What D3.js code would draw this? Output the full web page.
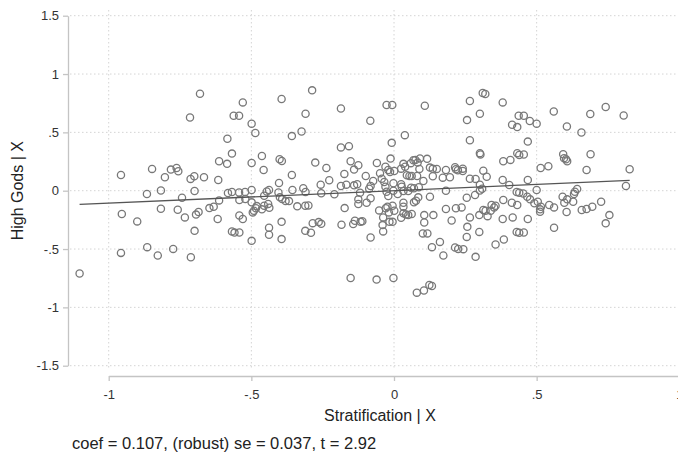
<!DOCTYPE html>
<html>
<head>
<meta charset="utf-8">
<script src="https://cdn.jsdelivr.net/npm/d3@7"></script>
<style>
  body { margin: 0; background: #fff; }
  text { font-family: "Liberation Sans", Arial, sans-serif; }
</style>
</head>
<body>
<script>
// Constantes del gráfico
const WIDTH = 678;
const HEIGHT = 455;

// Datos: residuos de Stratification | X (x) y High Gods | X (y)
const estratificacion = [
  -0.680, -0.715, -0.957, -0.848, -0.803, -0.782, -0.762, -0.756, -0.713, -0.700,
  -0.817, -0.699, -0.866, -0.743, -0.954, -0.817, -0.758, -0.733, -0.900, -0.685,
  -0.694, -0.699, -0.957, -0.865, -0.828, -0.774, -0.712, -1.102, -0.530, -0.562,
  -0.543, -0.499, -0.486, -0.394, -0.287, -0.310, -0.324, -0.358, -0.186, -0.186,
  -0.158, -0.584, -0.568, -0.613, -0.585, -0.666, -0.616, -0.499, -0.463, -0.457,
  -0.401, -0.393, -0.358, -0.403, -0.276, -0.237, -0.227, -0.257, -0.186, -0.568,
  -0.582, -0.543, -0.522, -0.499, -0.455, -0.446, -0.438, -0.405, -0.356, -0.318,
  -0.310, -0.255, -0.209, -0.647, -0.632, -0.613, -0.618, -0.542, -0.521, -0.499,
  -0.542, -0.530, -0.568, -0.559, -0.542, -0.499, -0.491, -0.484, -0.495, -0.481,
  -0.463, -0.455, -0.441, -0.437, -0.438, -0.438, -0.394, -0.394, -0.400, -0.392,
  -0.380, -0.368, -0.339, -0.311, -0.300, -0.285, -0.264, -0.255, -0.311, -0.291,
  -0.184, -0.083, -0.026, -0.006, 0.108, -0.008, 0.038, 0.266, 0.311, 0.320,
  0.301, 0.256, 0.266, 0.301, 0.303, -0.152, -0.140, -0.125, -0.174, -0.167,
  -0.140, -0.129, -0.099, -0.073, -0.082, -0.087, -0.060, -0.012, -0.030, -0.020,
  -0.014, 0.001, -0.049, -0.043, -0.034, -0.030, -0.002, 0.025, 0.033, 0.039,
  0.045, 0.054, 0.062, 0.059, 0.068, 0.075, 0.083, 0.089, 0.091, 0.081,
  0.103, 0.116, 0.126, 0.136, 0.150, 0.136, 0.182, 0.171, 0.196, 0.214,
  0.217, 0.224, 0.241, 0.241, 0.266, 0.286, 0.313, 0.325, 0.301, 0.025,
  0.027, 0.060, 0.070, 0.087, -0.002, 0.033, 0.182, 0.309, -0.119, -0.125,
  -0.125, -0.096, -0.082, -0.026, -0.020, 0.013, 0.033, 0.033, 0.050, 0.070,
  0.077, 0.085, 0.126, 0.255, 0.284, 0.301, -0.173, -0.143, -0.137, -0.117,
  -0.111, -0.052, -0.029, -0.023, -0.005, -0.018, 0.001, -0.038, -0.040, -0.038,
  -0.016, -0.005, 0.025, 0.033, 0.042, 0.050, 0.062, -0.082, 0.106, 0.106,
  0.138, 0.101, 0.117, 0.133, 0.161, 0.173, 0.182, 0.202, 0.217, 0.237,
  0.266, 0.257, 0.255, 0.299, 0.313, 0.321, 0.328, 0.299, 0.214, 0.225,
  0.243, 0.286, -0.152, -0.061, -0.002, 0.080, 0.105, 0.124, 0.133, 0.381,
  0.437, 0.455, 0.414, 0.432, 0.476, 0.500, 0.469, 0.560, 0.606, 0.688,
  0.742, 0.805, 0.657, 0.432, 0.439, 0.455, 0.383, 0.408, 0.593, 0.596,
  0.603, 0.607, 0.689, 0.514, 0.541, 0.675, 0.826, 0.381, 0.404, 0.469,
  0.813, 0.430, 0.439, 0.453, 0.500, 0.634, 0.642, 0.467, 0.477, 0.492,
  0.504, 0.342, 0.351, 0.356, 0.339, 0.383, 0.413, 0.432, 0.512, 0.515,
  0.512, 0.544, 0.561, 0.591, 0.597, 0.607, 0.628, 0.631, 0.605, 0.658,
  0.675, 0.695, 0.726, 0.755, 0.742, 0.381, 0.416, 0.469, 0.430, 0.439,
  0.455, 0.561, 0.385, 0.356
];

const diosesAltos = [
  0.831, 0.628, 0.135, 0.187, 0.115, 0.181, 0.195, 0.167, 0.101, 0.124,
  0.002, -0.003, -0.028, -0.060, -0.200, -0.155, -0.163, -0.229, -0.263, -0.183,
  -0.205, -0.344, -0.533, -0.484, -0.555, -0.499, -0.570, -0.710, 0.757, 0.642,
  0.642, 0.574, 0.494, 0.786, 0.860, 0.660, 0.507, 0.468, 0.705, 0.371,
  0.382, 0.445, 0.318, 0.253, 0.230, 0.115, 0.092, 0.238, 0.298, 0.178,
  0.270, 0.255, 0.135, 0.066, 0.241, 0.195, 0.089, 0.052, 0.040, -0.011,
  -0.020, -0.015, -0.011, 0.006, -0.043, -0.007, 0.006, -0.015, 0.006, 0.021,
  -0.011, -0.022, -0.031, -0.149, -0.138, -0.083, -0.243, -0.080, -0.071, -0.100,
  -0.212, -0.243, -0.349, -0.359, -0.358, -0.430, -0.172, -0.151, -0.186, -0.132,
  -0.160, -0.129, -0.114, -0.146, -0.318, -0.378, -0.267, -0.415, -0.057, -0.071,
  -0.089, -0.089, -0.134, -0.129, -0.126, -0.278, -0.269, -0.284, -0.344, -0.361,
  -0.292, 0.599, 0.734, 0.734, 0.728, 0.410, 0.476, 0.769, 0.837, 0.829,
  0.660, 0.605, 0.433, 0.322, 0.311, 0.253, 0.181, 0.218, 0.144, 0.052,
  0.046, 0.055, 0.126, 0.083, 0.040, 0.017, 0.238, 0.275, 0.206, 0.178,
  0.161, 0.169, 0.150, 0.103, 0.075, 0.034, 0.064, 0.189, 0.230, 0.206,
  0.132, 0.126, 0.126, 0.236, 0.261, 0.264, 0.241, 0.187, 0.277, 0.126,
  0.083, 0.273, 0.198, 0.189, 0.187, 0.124, 0.178, 0.112, 0.115, 0.201,
  0.184, 0.175, 0.189, 0.169, 0.103, 0.101, 0.172, 0.120, 0.052, 0.055,
  0.034, 0.026, 0.021, 0.029, 0.000, -0.003, 0.000, 0.017, -0.017, -0.074,
  -0.114, -0.103, -0.065, -0.009, -0.046, -0.028, -0.103, -0.138, -0.003, -0.100,
  -0.086, -0.057, -0.052, -0.060, -0.037, 0.002, -0.149, -0.286, -0.258, -0.267,
  -0.261, -0.169, -0.151, -0.138, -0.129, -0.186, -0.172, -0.229, -0.295, -0.349,
  -0.267, -0.267, -0.232, -0.194, -0.203, -0.209, -0.200, -0.401, -0.209, -0.272,
  -0.209, -0.366, -0.366, -0.484, -0.439, -0.555, -0.157, -0.255, -0.151, -0.143,
  -0.229, -0.310, -0.396, -0.209, -0.166, -0.172, -0.218, -0.353, -0.487, -0.499,
  -0.501, -0.567, -0.748, -0.762, -0.748, -0.874, -0.856, -0.808, -0.817, 0.757,
  0.642, 0.642, 0.565, 0.545, 0.597, 0.574, 0.421, 0.679, 0.550, 0.657,
  0.717, 0.645, 0.499, 0.322, 0.307, 0.310, 0.253, 0.264, 0.313, 0.279,
  0.270, 0.253, 0.313, 0.195, 0.210, 0.178, 0.184, 0.092, 0.049, 0.092,
  0.040, -0.011, -0.017, -0.024, 0.006, -0.009, 0.015, -0.052, -0.074, -0.108,
  -0.095, -0.123, -0.143, -0.129, -0.172, -0.080, -0.103, -0.123, -0.160, -0.138,
  -0.181, -0.123, -0.143, -0.052, -0.103, -0.074, -0.095, -0.028, -0.183, -0.166,
  -0.157, -0.138, -0.095, -0.209, -0.280, -0.243, -0.229, -0.243, -0.353, -0.361,
  -0.358, -0.318, -0.418, -0.461
];

// Pendiente de la regresión parcial (texto de abajo)
const coeficiente = 0.107;

// Marcas de los ejes
const ticksX = [-1, -0.5, 0, 0.5, 1];
const ticksY = [-1.5, -1, -0.5, 0, 0.5, 1, 1.5];

// Textos
const tituloX = "Stratification | X";
const tituloY = "High Gods | X";
const nota = "coef = 0.107, (robust) se = 0.037, t = 2.92";

// Formato estilo Stata: ".5", "-.5"
const formato = (d) => String(d).replace("0.", ".");

const svg = d3.select("body")
  .append("svg")
  .attr("width", WIDTH)
  .attr("height", HEIGHT);

svg.append("rect")
  .attr("width", WIDTH)
  .attr("height", HEIGHT)
  .attr("fill", "#fff");

// Escalas
const escalaX = d3.scaleLinear()
  .domain([-1, 1])
  .range([108.7, 679.3]);

const escalaY = d3.scaleLinear()
  .domain([-1.5, 1.5])
  .range([365.7, 15.7]);

// Grilla punteada
const grilla = svg.append("g")
  .attr("stroke", "#d4d4d4")
  .attr("stroke-width", 1)
  .attr("stroke-dasharray", "1.5,2.5");

grilla.selectAll(".h")
  .data(ticksY)
  .join("line")
  .attr("class", "h")
  .attr("x1", 70)
  .attr("x2", WIDTH)
  .attr("y1", (d) => escalaY(d))
  .attr("y2", (d) => escalaY(d));

grilla.selectAll(".v")
  .data(ticksX)
  .join("line")
  .attr("class", "v")
  .attr("x1", (d) => escalaX(d))
  .attr("x2", (d) => escalaX(d))
  .attr("y1", 10)
  .attr("y2", 370);

// Eje Y
const ejeY = svg.append("g")
  .attr("transform", "translate(68, 0)")
  .call(d3.axisLeft(escalaY)
    .tickValues(ticksY)
    .tickFormat(formato)
    .tickSize(5)
    .tickSizeOuter(0)
    .tickPadding(4));

// Eje X
const ejeX = svg.append("g")
  .attr("transform", "translate(0, 376)")
  .call(d3.axisBottom(escalaX)
    .tickValues(ticksX)
    .tickFormat(formato)
    .tickSize(5)
    .tickSizeOuter(0)
    .tickPadding(9));

[ejeX, ejeY].forEach((eje) => {
  eje.select(".domain").attr("stroke", "#c4c4c4").attr("stroke-width", 1.3);
  eje.selectAll(".tick line").attr("stroke", "#c4c4c4").attr("stroke-width", 1.3);
  eje.selectAll("text")
    .attr("font-family", "Liberation Sans, Arial, sans-serif")
    .attr("font-size", 13)
    .attr("fill", "#333");
});

// Puntos
const puntos = d3.zip(estratificacion, diosesAltos);

svg.append("g")
  .selectAll("circle")
  .data(puntos)
  .join("circle")
  .attr("cx", (d) => escalaX(d[0]))
  .attr("cy", (d) => escalaY(d[1]))
  .attr("r", 3.6)
  .attr("fill", "none")
  .attr("stroke", "#787878")
  .attr("stroke-width", 1.3);

// Línea de ajuste
const extremosX = d3.extent(estratificacion);
const linea = d3.line()
  .x((d) => escalaX(d))
  .y((d) => escalaY(coeficiente * d));

svg.append("path")
  .datum(extremosX)
  .attr("d", linea)
  .attr("fill", "none")
  .attr("stroke", "#555")
  .attr("stroke-width", 1.3);

// Títulos
svg.append("text")
  .attr("x", 380)
  .attr("y", 421)
  .attr("text-anchor", "middle")
  .attr("font-size", 16)
  .attr("fill", "#222")
  .text(tituloX);

svg.append("text")
  .attr("transform", "translate(23, 190.7) rotate(-90)")
  .attr("text-anchor", "middle")
  .attr("font-size", 16)
  .attr("fill", "#222")
  .text(tituloY);

svg.append("text")
  .attr("x", 72)
  .attr("y", 449)
  .attr("font-size", 16.5)
  .attr("fill", "#222")
  .text(nota);
</script>
</body>
</html>
